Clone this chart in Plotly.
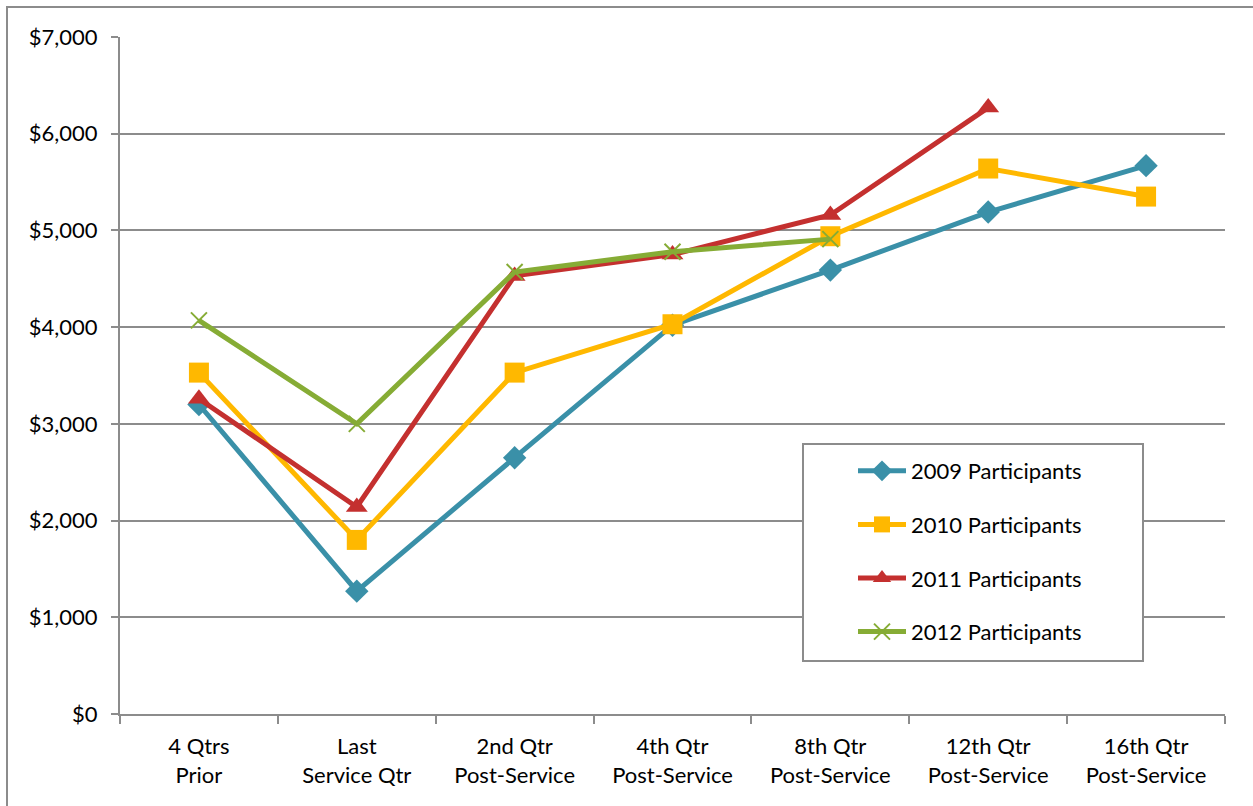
import plotly.graph_objects as go

categories = ["4 Qtrs<br>Prior", "Last<br>Service Qtr", "2nd Qtr<br>Post-Service",
              "4th Qtr<br>Post-Service", "8th Qtr<br>Post-Service",
              "12th Qtr<br>Post-Service", "16th Qtr<br>Post-Service"]
series_names = ["2009 Participants", "2010 Participants", "2011 Participants", "2012 Participants"]
v2009 = [3200, 1270, 2650, 4020, 4590, 5190, 5670]
v2010 = [3530, 1800, 3530, 4030, 4940, 5640, 5350]
v2011 = [3260, 2140, 4530, 4750, 5160, 6270, None]
v2012 = [4070, 3000, 4570, 4780, 4910, None, None]
y_ticks = [0, 1000, 2000, 3000, 4000, 5000, 6000, 7000]
y_labels = ["$0", "$1,000", "$2,000", "$3,000", "$4,000", "$5,000", "$6,000", "$7,000"]

colors = ["#3A90A8", "#FFB800", "#C4302F", "#86AC35"]
symbols = ["diamond", "square", "triangle-up", "x-thin"]
sizes = [18, 20, 19, 16]
values = [v2009, v2010, v2011, v2012]

fig = go.Figure()
for i, (name, vals) in enumerate(zip(series_names, values)):
    marker = dict(symbol=symbols[i], size=sizes[i], color=colors[i])
    if symbols[i] == "x-thin":
        marker["line"] = dict(color=colors[i], width=2)
    fig.add_trace(go.Scatter(
        x=categories, y=vals, name=name, mode="lines+markers",
        line=dict(color=colors[i], width=5),
        marker=marker, legendgroup=name, connectgaps=False,
    ))

L, R, T, B = 120, 28, 37, 92
W, H = 1253, 806
pw, ph = W - L - R, H - T - B

def px_x(p):
    return (p - L) / pw

def px_y(p):
    return (H - B - p) / ph

fig.update_layout(
    width=W, height=H,
    margin=dict(l=L, r=R, t=T, b=B),
    paper_bgcolor="white", plot_bgcolor="white",
    font=dict(family="Lato, sans-serif", size=22, color="#000000"),
    showlegend=True,
    legend=dict(
        x=px_x(853), y=px_y(450), xanchor="left", yanchor="top",
        bgcolor="rgba(0,0,0,0)", borderwidth=0,
        font=dict(size=22), tracegroupgap=22, itemwidth=48,
    ),
    xaxis=dict(
        type="category", showgrid=False, showline=True, linecolor="#8c8c8c", linewidth=2,
        ticks="outside", ticklen=8, tickcolor="#8c8c8c", tickwidth=2,
        tickson="boundaries", range=[-0.5, 6.5], tickfont=dict(size=22),
        ticklabelstandoff=12, fixedrange=True,
    ),
    yaxis=dict(
        range=[0, 7000], tickvals=y_ticks, ticktext=y_labels,
        showgrid=True, gridcolor="#8c8c8c", gridwidth=2,
        showline=True, linecolor="#8c8c8c", linewidth=2,
        ticks="outside", ticklen=7, tickcolor="#8c8c8c", tickwidth=2,
        zeroline=False, tickfont=dict(size=22), ticklabelstandoff=9, fixedrange=True,
    ),
    shapes=[
        dict(type="rect", xref="paper", yref="paper",
             x0=px_x(7), x1=px_x(1262), y0=px_y(7), y1=px_y(815),
             line=dict(color="#8c8c8c", width=2), fillcolor="rgba(0,0,0,0)", layer="below"),
        dict(type="rect", xref="paper", yref="paper",
             x0=px_x(803), x1=px_x(1143), y0=px_y(444), y1=px_y(661),
             line=dict(color="#8c8c8c", width=2), fillcolor="white", layer="above"),
    ],
)

fig.write_html("out.html")
